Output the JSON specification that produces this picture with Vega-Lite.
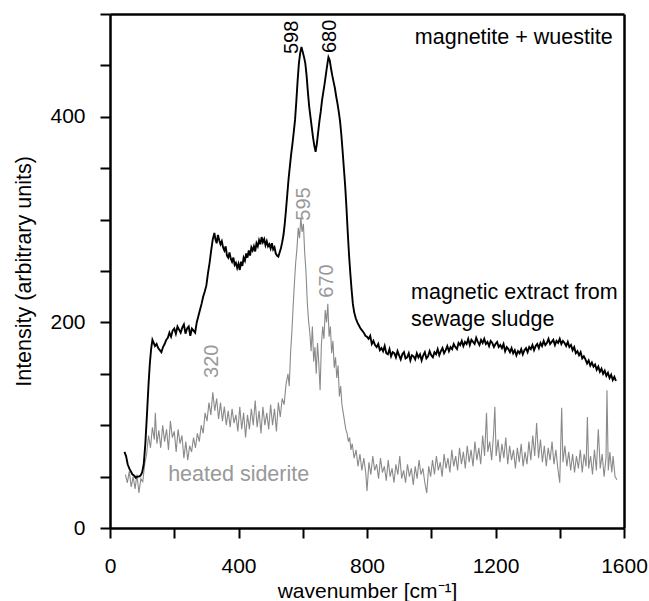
{
  "$schema": "https://vega.github.io/schema/vega-lite/v6.json",
  "width": 514,
  "height": 514,
  "autosize": {"type": "none"},
  "padding": {"left": 110, "top": 14, "right": 25, "bottom": 73},
  "config": {
    "font": "Liberation Sans",
    "axis": {"grid": false}
  },
  "resolve": {"scale": {"x": "independent", "y": "independent"}, "axis": {"x": "independent", "y": "independent"}},
  "datasets": {
    "siderite": [
      {"wavenumber":48,"intensity":52},{"wavenumber":54,"intensity":44},{"wavenumber":60,"intensity":55},{"wavenumber":66,"intensity":40},{"wavenumber":72,"intensity":50},{"wavenumber":78,"intensity":38},{"wavenumber":84,"intensity":52},{"wavenumber":90,"intensity":34},{"wavenumber":96,"intensity":48},{"wavenumber":102,"intensity":45},
      {"wavenumber":108,"intensity":62},{"wavenumber":114,"intensity":72},{"wavenumber":120,"intensity":90},{"wavenumber":126,"intensity":78},{"wavenumber":132,"intensity":98},{"wavenumber":138,"intensity":86},{"wavenumber":141,"intensity":112},{"wavenumber":146,"intensity":82},{"wavenumber":152,"intensity":95},{"wavenumber":158,"intensity":78},
      {"wavenumber":164,"intensity":100},{"wavenumber":170,"intensity":84},{"wavenumber":176,"intensity":96},{"wavenumber":182,"intensity":76},{"wavenumber":188,"intensity":104},{"wavenumber":194,"intensity":88},{"wavenumber":200,"intensity":94},{"wavenumber":206,"intensity":74},{"wavenumber":212,"intensity":96},{"wavenumber":218,"intensity":82},
      {"wavenumber":224,"intensity":90},{"wavenumber":230,"intensity":68},{"wavenumber":236,"intensity":84},{"wavenumber":242,"intensity":66},{"wavenumber":248,"intensity":80},{"wavenumber":254,"intensity":74},{"wavenumber":260,"intensity":88},{"wavenumber":266,"intensity":78},{"wavenumber":272,"intensity":92},{"wavenumber":278,"intensity":84},
      {"wavenumber":284,"intensity":100},{"wavenumber":290,"intensity":92},{"wavenumber":296,"intensity":112},{"wavenumber":302,"intensity":104},{"wavenumber":308,"intensity":122},{"wavenumber":314,"intensity":110},{"wavenumber":320,"intensity":132},{"wavenumber":326,"intensity":114},{"wavenumber":332,"intensity":126},{"wavenumber":338,"intensity":106},
      {"wavenumber":344,"intensity":122},{"wavenumber":350,"intensity":104},{"wavenumber":356,"intensity":118},{"wavenumber":362,"intensity":100},{"wavenumber":368,"intensity":114},{"wavenumber":374,"intensity":98},{"wavenumber":380,"intensity":116},{"wavenumber":386,"intensity":102},{"wavenumber":392,"intensity":110},{"wavenumber":398,"intensity":94},
      {"wavenumber":404,"intensity":118},{"wavenumber":410,"intensity":96},{"wavenumber":416,"intensity":112},{"wavenumber":422,"intensity":88},{"wavenumber":428,"intensity":110},{"wavenumber":434,"intensity":96},{"wavenumber":440,"intensity":116},{"wavenumber":446,"intensity":100},{"wavenumber":452,"intensity":124},{"wavenumber":458,"intensity":98},
      {"wavenumber":464,"intensity":114},{"wavenumber":470,"intensity":92},{"wavenumber":476,"intensity":118},{"wavenumber":482,"intensity":100},{"wavenumber":488,"intensity":112},{"wavenumber":494,"intensity":96},{"wavenumber":500,"intensity":120},{"wavenumber":506,"intensity":100},{"wavenumber":512,"intensity":116},{"wavenumber":518,"intensity":94},
      {"wavenumber":524,"intensity":122},{"wavenumber":530,"intensity":108},{"wavenumber":536,"intensity":126},{"wavenumber":542,"intensity":120},{"wavenumber":548,"intensity":140},{"wavenumber":554,"intensity":150},{"wavenumber":558,"intensity":138},{"wavenumber":562,"intensity":170},{"wavenumber":566,"intensity":190},{"wavenumber":570,"intensity":215},
      {"wavenumber":574,"intensity":238},{"wavenumber":578,"intensity":258},{"wavenumber":582,"intensity":272},{"wavenumber":586,"intensity":292},{"wavenumber":590,"intensity":282},{"wavenumber":594,"intensity":302},{"wavenumber":598,"intensity":288},{"wavenumber":602,"intensity":296},{"wavenumber":606,"intensity":268},{"wavenumber":610,"intensity":250},
      {"wavenumber":614,"intensity":220},{"wavenumber":618,"intensity":202},{"wavenumber":622,"intensity":190},{"wavenumber":626,"intensity":172},{"wavenumber":630,"intensity":196},{"wavenumber":634,"intensity":162},{"wavenumber":638,"intensity":176},{"wavenumber":642,"intensity":150},{"wavenumber":646,"intensity":180},{"wavenumber":650,"intensity":160},
      {"wavenumber":654,"intensity":134},{"wavenumber":658,"intensity":178},{"wavenumber":662,"intensity":196},{"wavenumber":666,"intensity":184},{"wavenumber":670,"intensity":212},{"wavenumber":674,"intensity":200},{"wavenumber":678,"intensity":218},{"wavenumber":682,"intensity":186},{"wavenumber":686,"intensity":196},{"wavenumber":690,"intensity":170},
      {"wavenumber":694,"intensity":182},{"wavenumber":698,"intensity":156},{"wavenumber":702,"intensity":166},{"wavenumber":706,"intensity":146},{"wavenumber":710,"intensity":158},{"wavenumber":714,"intensity":128},{"wavenumber":718,"intensity":138},{"wavenumber":722,"intensity":120},{"wavenumber":726,"intensity":112},{"wavenumber":730,"intensity":104},
      {"wavenumber":734,"intensity":96},{"wavenumber":738,"intensity":92},{"wavenumber":742,"intensity":84},{"wavenumber":746,"intensity":88},{"wavenumber":750,"intensity":76},{"wavenumber":754,"intensity":82},{"wavenumber":760,"intensity":68},{"wavenumber":766,"intensity":76},{"wavenumber":772,"intensity":60},{"wavenumber":778,"intensity":72},
      {"wavenumber":784,"intensity":56},{"wavenumber":790,"intensity":68},{"wavenumber":796,"intensity":54},{"wavenumber":800,"intensity":36},{"wavenumber":806,"intensity":64},{"wavenumber":812,"intensity":52},{"wavenumber":818,"intensity":70},{"wavenumber":824,"intensity":56},{"wavenumber":830,"intensity":62},{"wavenumber":836,"intensity":48},
      {"wavenumber":842,"intensity":68},{"wavenumber":848,"intensity":54},{"wavenumber":854,"intensity":60},{"wavenumber":860,"intensity":46},{"wavenumber":866,"intensity":66},{"wavenumber":872,"intensity":50},{"wavenumber":878,"intensity":58},{"wavenumber":884,"intensity":44},{"wavenumber":890,"intensity":62},{"wavenumber":896,"intensity":52},
      {"wavenumber":902,"intensity":70},{"wavenumber":908,"intensity":48},{"wavenumber":914,"intensity":56},{"wavenumber":920,"intensity":44},{"wavenumber":926,"intensity":62},{"wavenumber":932,"intensity":50},{"wavenumber":938,"intensity":58},{"wavenumber":944,"intensity":42},{"wavenumber":950,"intensity":60},{"wavenumber":956,"intensity":48},
      {"wavenumber":962,"intensity":66},{"wavenumber":968,"intensity":52},{"wavenumber":974,"intensity":58},{"wavenumber":980,"intensity":44},{"wavenumber":986,"intensity":34},{"wavenumber":992,"intensity":60},{"wavenumber":998,"intensity":50},{"wavenumber":1004,"intensity":66},{"wavenumber":1010,"intensity":52},{"wavenumber":1016,"intensity":70},
      {"wavenumber":1022,"intensity":56},{"wavenumber":1028,"intensity":64},{"wavenumber":1034,"intensity":50},{"wavenumber":1040,"intensity":72},{"wavenumber":1046,"intensity":58},{"wavenumber":1052,"intensity":68},{"wavenumber":1058,"intensity":54},{"wavenumber":1064,"intensity":76},{"wavenumber":1070,"intensity":60},{"wavenumber":1076,"intensity":70},
      {"wavenumber":1082,"intensity":56},{"wavenumber":1088,"intensity":78},{"wavenumber":1094,"intensity":62},{"wavenumber":1100,"intensity":74},{"wavenumber":1106,"intensity":58},{"wavenumber":1112,"intensity":80},{"wavenumber":1118,"intensity":64},{"wavenumber":1124,"intensity":76},{"wavenumber":1130,"intensity":60},{"wavenumber":1136,"intensity":84},
      {"wavenumber":1142,"intensity":66},{"wavenumber":1148,"intensity":78},{"wavenumber":1154,"intensity":62},{"wavenumber":1160,"intensity":90},{"wavenumber":1166,"intensity":70},{"wavenumber":1172,"intensity":112},{"wavenumber":1176,"intensity":74},{"wavenumber":1182,"intensity":84},{"wavenumber":1188,"intensity":66},{"wavenumber":1194,"intensity":92},
      {"wavenumber":1198,"intensity":118},{"wavenumber":1202,"intensity":70},{"wavenumber":1208,"intensity":86},{"wavenumber":1214,"intensity":64},{"wavenumber":1220,"intensity":82},{"wavenumber":1226,"intensity":68},{"wavenumber":1232,"intensity":88},{"wavenumber":1238,"intensity":62},{"wavenumber":1244,"intensity":80},{"wavenumber":1250,"intensity":66},
      {"wavenumber":1256,"intensity":76},{"wavenumber":1262,"intensity":58},{"wavenumber":1268,"intensity":78},{"wavenumber":1274,"intensity":64},{"wavenumber":1280,"intensity":82},{"wavenumber":1286,"intensity":60},{"wavenumber":1292,"intensity":74},{"wavenumber":1298,"intensity":62},{"wavenumber":1304,"intensity":84},{"wavenumber":1310,"intensity":66},
      {"wavenumber":1316,"intensity":90},{"wavenumber":1322,"intensity":70},{"wavenumber":1328,"intensity":102},{"wavenumber":1334,"intensity":68},{"wavenumber":1340,"intensity":86},{"wavenumber":1346,"intensity":64},{"wavenumber":1352,"intensity":80},{"wavenumber":1358,"intensity":60},{"wavenumber":1364,"intensity":78},{"wavenumber":1370,"intensity":66},
      {"wavenumber":1376,"intensity":84},{"wavenumber":1382,"intensity":62},{"wavenumber":1388,"intensity":76},{"wavenumber":1394,"intensity":58},{"wavenumber":1400,"intensity":44},{"wavenumber":1406,"intensity":117},{"wavenumber":1410,"intensity":64},{"wavenumber":1416,"intensity":80},{"wavenumber":1422,"intensity":60},{"wavenumber":1428,"intensity":74},
      {"wavenumber":1434,"intensity":56},{"wavenumber":1440,"intensity":72},{"wavenumber":1446,"intensity":54},{"wavenumber":1452,"intensity":70},{"wavenumber":1458,"intensity":58},{"wavenumber":1464,"intensity":76},{"wavenumber":1470,"intensity":54},{"wavenumber":1476,"intensity":72},{"wavenumber":1482,"intensity":60},{"wavenumber":1486,"intensity":108},
      {"wavenumber":1490,"intensity":58},{"wavenumber":1496,"intensity":70},{"wavenumber":1502,"intensity":52},{"wavenumber":1508,"intensity":76},{"wavenumber":1514,"intensity":56},{"wavenumber":1520,"intensity":96},{"wavenumber":1526,"intensity":58},{"wavenumber":1532,"intensity":72},{"wavenumber":1538,"intensity":50},{"wavenumber":1544,"intensity":68},
      {"wavenumber":1547,"intensity":134},{"wavenumber":1551,"intensity":56},{"wavenumber":1556,"intensity":74},{"wavenumber":1562,"intensity":54},{"wavenumber":1566,"intensity":70},{"wavenumber":1572,"intensity":50},{"wavenumber":1578,"intensity":47}
    ],
    "magnetic": [
      {"wavenumber":45,"intensity":74},{"wavenumber":50,"intensity":70},{"wavenumber":55,"intensity":62},{"wavenumber":60,"intensity":58},{"wavenumber":65,"intensity":55},{"wavenumber":70,"intensity":52},{"wavenumber":75,"intensity":51},{"wavenumber":80,"intensity":49},{"wavenumber":85,"intensity":50},{"wavenumber":90,"intensity":50},
      {"wavenumber":95,"intensity":51},{"wavenumber":100,"intensity":54},{"wavenumber":105,"intensity":62},{"wavenumber":110,"intensity":82},{"wavenumber":115,"intensity":110},{"wavenumber":120,"intensity":140},{"wavenumber":124,"intensity":160},{"wavenumber":128,"intensity":174},{"wavenumber":132,"intensity":183},{"wavenumber":136,"intensity":180},
      {"wavenumber":140,"intensity":177},{"wavenumber":145,"intensity":179},{"wavenumber":150,"intensity":175},{"wavenumber":155,"intensity":173},{"wavenumber":160,"intensity":171},{"wavenumber":165,"intensity":176},{"wavenumber":170,"intensity":179},{"wavenumber":175,"intensity":183},{"wavenumber":180,"intensity":185},{"wavenumber":185,"intensity":190},
      {"wavenumber":190,"intensity":186},{"wavenumber":195,"intensity":192},{"wavenumber":200,"intensity":194},{"wavenumber":205,"intensity":189},{"wavenumber":210,"intensity":196},{"wavenumber":215,"intensity":193},{"wavenumber":220,"intensity":190},{"wavenumber":225,"intensity":195},{"wavenumber":230,"intensity":198},{"wavenumber":235,"intensity":189},
      {"wavenumber":240,"intensity":194},{"wavenumber":245,"intensity":196},{"wavenumber":250,"intensity":187},{"wavenumber":255,"intensity":194},{"wavenumber":260,"intensity":192},{"wavenumber":265,"intensity":190},{"wavenumber":270,"intensity":200},{"wavenumber":275,"intensity":206},{"wavenumber":280,"intensity":212},{"wavenumber":285,"intensity":218},
      {"wavenumber":290,"intensity":225},{"wavenumber":295,"intensity":230},{"wavenumber":300,"intensity":236},{"wavenumber":305,"intensity":248},{"wavenumber":310,"intensity":258},{"wavenumber":315,"intensity":270},{"wavenumber":320,"intensity":281},{"wavenumber":325,"intensity":287},{"wavenumber":328,"intensity":281},{"wavenumber":332,"intensity":277},
      {"wavenumber":336,"intensity":285},{"wavenumber":340,"intensity":280},{"wavenumber":344,"intensity":276},{"wavenumber":348,"intensity":279},{"wavenumber":352,"intensity":273},{"wavenumber":356,"intensity":270},{"wavenumber":360,"intensity":274},{"wavenumber":364,"intensity":265},{"wavenumber":368,"intensity":263},{"wavenumber":372,"intensity":268},
      {"wavenumber":376,"intensity":262},{"wavenumber":380,"intensity":259},{"wavenumber":384,"intensity":263},{"wavenumber":388,"intensity":256},{"wavenumber":392,"intensity":258},{"wavenumber":396,"intensity":253},{"wavenumber":400,"intensity":257},{"wavenumber":404,"intensity":251},{"wavenumber":408,"intensity":259},{"wavenumber":412,"intensity":255},
      {"wavenumber":416,"intensity":263},{"wavenumber":420,"intensity":260},{"wavenumber":424,"intensity":267},{"wavenumber":428,"intensity":263},{"wavenumber":432,"intensity":270},{"wavenumber":436,"intensity":265},{"wavenumber":440,"intensity":273},{"wavenumber":444,"intensity":270},{"wavenumber":448,"intensity":274},{"wavenumber":452,"intensity":269},
      {"wavenumber":456,"intensity":277},{"wavenumber":460,"intensity":274},{"wavenumber":464,"intensity":280},{"wavenumber":468,"intensity":276},{"wavenumber":472,"intensity":283},{"wavenumber":476,"intensity":278},{"wavenumber":480,"intensity":281},{"wavenumber":484,"intensity":275},{"wavenumber":488,"intensity":279},{"wavenumber":492,"intensity":274},
      {"wavenumber":496,"intensity":276},{"wavenumber":500,"intensity":272},{"wavenumber":504,"intensity":277},{"wavenumber":508,"intensity":271},{"wavenumber":512,"intensity":273},{"wavenumber":516,"intensity":267},{"wavenumber":520,"intensity":265},{"wavenumber":524,"intensity":264},{"wavenumber":528,"intensity":268},{"wavenumber":532,"intensity":272},
      {"wavenumber":536,"intensity":278},{"wavenumber":540,"intensity":285},{"wavenumber":544,"intensity":296},{"wavenumber":548,"intensity":310},{"wavenumber":552,"intensity":325},{"wavenumber":556,"intensity":340},{"wavenumber":560,"intensity":352},{"wavenumber":564,"intensity":364},{"wavenumber":568,"intensity":374},{"wavenumber":572,"intensity":385},
      {"wavenumber":576,"intensity":397},{"wavenumber":580,"intensity":415},{"wavenumber":584,"intensity":435},{"wavenumber":588,"intensity":452},{"wavenumber":592,"intensity":462},{"wavenumber":596,"intensity":468},{"wavenumber":600,"intensity":463},{"wavenumber":604,"intensity":458},{"wavenumber":608,"intensity":452},{"wavenumber":612,"intensity":440},
      {"wavenumber":616,"intensity":424},{"wavenumber":620,"intensity":410},{"wavenumber":624,"intensity":400},{"wavenumber":628,"intensity":390},{"wavenumber":632,"intensity":380},{"wavenumber":636,"intensity":372},{"wavenumber":640,"intensity":366},{"wavenumber":644,"intensity":374},{"wavenumber":648,"intensity":385},{"wavenumber":652,"intensity":396},
      {"wavenumber":656,"intensity":405},{"wavenumber":660,"intensity":416},{"wavenumber":664,"intensity":424},{"wavenumber":668,"intensity":432},{"wavenumber":672,"intensity":441},{"wavenumber":676,"intensity":450},{"wavenumber":680,"intensity":458},{"wavenumber":684,"intensity":455},{"wavenumber":688,"intensity":447},{"wavenumber":692,"intensity":440},
      {"wavenumber":696,"intensity":434},{"wavenumber":700,"intensity":428},{"wavenumber":704,"intensity":420},{"wavenumber":708,"intensity":413},{"wavenumber":712,"intensity":405},{"wavenumber":716,"intensity":396},{"wavenumber":720,"intensity":383},{"wavenumber":724,"intensity":367},{"wavenumber":728,"intensity":350},{"wavenumber":732,"intensity":333},
      {"wavenumber":736,"intensity":312},{"wavenumber":740,"intensity":288},{"wavenumber":744,"intensity":266},{"wavenumber":748,"intensity":248},{"wavenumber":752,"intensity":232},{"wavenumber":756,"intensity":218},{"wavenumber":760,"intensity":210},{"wavenumber":765,"intensity":204},{"wavenumber":770,"intensity":200},{"wavenumber":775,"intensity":197},
      {"wavenumber":780,"intensity":194},{"wavenumber":785,"intensity":192},{"wavenumber":790,"intensity":190},{"wavenumber":795,"intensity":187},{"wavenumber":800,"intensity":186},{"wavenumber":805,"intensity":184},{"wavenumber":810,"intensity":187},{"wavenumber":815,"intensity":179},{"wavenumber":820,"intensity":182},{"wavenumber":825,"intensity":178},
      {"wavenumber":830,"intensity":176},{"wavenumber":835,"intensity":179},{"wavenumber":840,"intensity":173},{"wavenumber":845,"intensity":175},{"wavenumber":850,"intensity":172},{"wavenumber":855,"intensity":177},{"wavenumber":860,"intensity":170},{"wavenumber":865,"intensity":169},{"wavenumber":870,"intensity":174},{"wavenumber":875,"intensity":167},
      {"wavenumber":880,"intensity":171},{"wavenumber":885,"intensity":170},{"wavenumber":890,"intensity":166},{"wavenumber":895,"intensity":172},{"wavenumber":900,"intensity":168},{"wavenumber":905,"intensity":164},{"wavenumber":910,"intensity":169},{"wavenumber":915,"intensity":171},{"wavenumber":920,"intensity":165},{"wavenumber":925,"intensity":166},
      {"wavenumber":930,"intensity":170},{"wavenumber":935,"intensity":163},{"wavenumber":940,"intensity":168},{"wavenumber":945,"intensity":167},{"wavenumber":950,"intensity":164},{"wavenumber":955,"intensity":170},{"wavenumber":960,"intensity":166},{"wavenumber":965,"intensity":169},{"wavenumber":970,"intensity":163},{"wavenumber":975,"intensity":168},
      {"wavenumber":980,"intensity":171},{"wavenumber":985,"intensity":165},{"wavenumber":990,"intensity":167},{"wavenumber":995,"intensity":172},{"wavenumber":1000,"intensity":168},{"wavenumber":1005,"intensity":166},{"wavenumber":1010,"intensity":171},{"wavenumber":1015,"intensity":169},{"wavenumber":1020,"intensity":174},{"wavenumber":1025,"intensity":168},
      {"wavenumber":1030,"intensity":172},{"wavenumber":1035,"intensity":175},{"wavenumber":1040,"intensity":170},{"wavenumber":1045,"intensity":173},{"wavenumber":1050,"intensity":177},{"wavenumber":1055,"intensity":172},{"wavenumber":1060,"intensity":176},{"wavenumber":1065,"intensity":174},{"wavenumber":1070,"intensity":179},{"wavenumber":1075,"intensity":176},
      {"wavenumber":1080,"intensity":174},{"wavenumber":1085,"intensity":180},{"wavenumber":1090,"intensity":178},{"wavenumber":1095,"intensity":182},{"wavenumber":1100,"intensity":177},{"wavenumber":1105,"intensity":181},{"wavenumber":1110,"intensity":179},{"wavenumber":1115,"intensity":184},{"wavenumber":1120,"intensity":178},{"wavenumber":1125,"intensity":183},
      {"wavenumber":1130,"intensity":181},{"wavenumber":1135,"intensity":179},{"wavenumber":1140,"intensity":185},{"wavenumber":1145,"intensity":181},{"wavenumber":1150,"intensity":178},{"wavenumber":1155,"intensity":183},{"wavenumber":1160,"intensity":180},{"wavenumber":1165,"intensity":184},{"wavenumber":1170,"intensity":179},{"wavenumber":1175,"intensity":181},
      {"wavenumber":1180,"intensity":177},{"wavenumber":1185,"intensity":182},{"wavenumber":1190,"intensity":180},{"wavenumber":1195,"intensity":176},{"wavenumber":1200,"intensity":179},{"wavenumber":1205,"intensity":181},{"wavenumber":1210,"intensity":176},{"wavenumber":1215,"intensity":178},{"wavenumber":1220,"intensity":175},{"wavenumber":1225,"intensity":179},
      {"wavenumber":1230,"intensity":172},{"wavenumber":1235,"intensity":176},{"wavenumber":1240,"intensity":174},{"wavenumber":1245,"intensity":171},{"wavenumber":1250,"intensity":175},{"wavenumber":1255,"intensity":170},{"wavenumber":1260,"intensity":173},{"wavenumber":1265,"intensity":168},{"wavenumber":1270,"intensity":172},{"wavenumber":1275,"intensity":170},
      {"wavenumber":1280,"intensity":174},{"wavenumber":1285,"intensity":169},{"wavenumber":1290,"intensity":173},{"wavenumber":1295,"intensity":175},{"wavenumber":1300,"intensity":171},{"wavenumber":1305,"intensity":176},{"wavenumber":1310,"intensity":174},{"wavenumber":1315,"intensity":178},{"wavenumber":1320,"intensity":173},{"wavenumber":1325,"intensity":177},
      {"wavenumber":1330,"intensity":179},{"wavenumber":1335,"intensity":175},{"wavenumber":1340,"intensity":180},{"wavenumber":1345,"intensity":177},{"wavenumber":1350,"intensity":182},{"wavenumber":1355,"intensity":178},{"wavenumber":1360,"intensity":180},{"wavenumber":1365,"intensity":184},{"wavenumber":1370,"intensity":179},{"wavenumber":1375,"intensity":181},
      {"wavenumber":1380,"intensity":183},{"wavenumber":1385,"intensity":178},{"wavenumber":1390,"intensity":182},{"wavenumber":1395,"intensity":180},{"wavenumber":1400,"intensity":184},{"wavenumber":1405,"intensity":179},{"wavenumber":1410,"intensity":182},{"wavenumber":1415,"intensity":180},{"wavenumber":1420,"intensity":177},{"wavenumber":1425,"intensity":181},
      {"wavenumber":1430,"intensity":176},{"wavenumber":1435,"intensity":178},{"wavenumber":1440,"intensity":173},{"wavenumber":1445,"intensity":176},{"wavenumber":1450,"intensity":170},{"wavenumber":1455,"intensity":172},{"wavenumber":1460,"intensity":168},{"wavenumber":1465,"intensity":171},{"wavenumber":1470,"intensity":165},{"wavenumber":1475,"intensity":167},
      {"wavenumber":1480,"intensity":164},{"wavenumber":1485,"intensity":160},{"wavenumber":1490,"intensity":163},{"wavenumber":1495,"intensity":158},{"wavenumber":1500,"intensity":161},{"wavenumber":1505,"intensity":157},{"wavenumber":1510,"intensity":159},{"wavenumber":1515,"intensity":154},{"wavenumber":1520,"intensity":157},{"wavenumber":1525,"intensity":152},
      {"wavenumber":1530,"intensity":155},{"wavenumber":1535,"intensity":150},{"wavenumber":1540,"intensity":153},{"wavenumber":1545,"intensity":148},{"wavenumber":1550,"intensity":151},{"wavenumber":1555,"intensity":146},{"wavenumber":1560,"intensity":149},{"wavenumber":1565,"intensity":144},{"wavenumber":1570,"intensity":147},{"wavenumber":1575,"intensity":143}
    ],
    "peaks": [
      {"wavenumber":565,"intensity":461,"label":"598","series":"magnetic"},
      {"wavenumber":684,"intensity":462,"label":"680","series":"magnetic"},
      {"wavenumber":604,"intensity":299,"label":"595","series":"siderite"},
      {"wavenumber":677,"intensity":224,"label":"670","series":"siderite"},
      {"wavenumber":319,"intensity":146,"label":"320","series":"siderite"}
    ],
    "names": [
      {"wavenumber":949,"intensity":477,"label":"magnetite + wuestite","series":"magnetic"},
      {"wavenumber":937,"intensity":229,"label":"magnetic extract from","series":"magnetic"},
      {"wavenumber":937,"intensity":202,"label":"sewage sludge","series":"magnetic"},
      {"wavenumber":181,"intensity":52,"label":"heated siderite","series":"siderite"}
    ]
  },
  "layer": [
    {
      "data": {"name": "siderite"},
      "mark": {"type": "line", "color": "#8a8a8a", "strokeWidth": 1.1},
      "encoding": {
        "x": {
          "field": "wavenumber",
          "type": "quantitative",
          "scale": {"domain": [0, 1600], "nice": false, "zero": false},
          "axis": {
            "orient": "bottom",
            "values": [0, 200, 400, 600, 800, 1000, 1200, 1400, 1600],
            "format": "d",
            "labelExpr": "datum.value % 400 == 0 ? datum.label : ''",
            "tickSize": 10, "tickWidth": 2, "tickColor": "#000000",
            "domainColor": "#000000", "domainWidth": 2.5,
            "labelFontSize": 21, "labelColor": "#000000", "labelPadding": 17,
            "labelFlush": false, "labelOverlap": false,
            "title": "wavenumber [cm⁻¹]",
            "titleFontSize": 21, "titleFontWeight": "normal", "titleColor": "#000000",
            "titleBaseline": "alphabetic", "titleY": 69
          }
        },
        "y": {
          "field": "intensity",
          "type": "quantitative",
          "scale": {"domain": [0, 500], "nice": false},
          "axis": {
            "orient": "left",
            "values": [0, 50, 100, 150, 200, 250, 300, 350, 400, 450, 500],
            "format": "d",
            "labelExpr": "datum.value % 200 == 0 ? datum.label : ''",
            "tickSize": 10, "tickWidth": 2, "tickColor": "#000000",
            "domainColor": "#000000", "domainWidth": 2.5,
            "labelFontSize": 21, "labelColor": "#000000", "labelPadding": 15,
            "labelFlush": false, "labelOverlap": false,
            "title": "Intensity (arbitrary units)",
            "titleFontSize": 21.5, "titleFontWeight": "normal", "titleColor": "#000000",
            "titleBaseline": "alphabetic", "titleX": -80
          }
        }
      }
    },
    {
      "data": {"name": "magnetic"},
      "mark": {"type": "line", "color": "#000000", "strokeWidth": 1.9},
      "encoding": {
        "x": {
          "field": "wavenumber", "type": "quantitative",
          "scale": {"domain": [0, 1600], "nice": false, "zero": false},
          "axis": {"orient": "top", "labels": false, "ticks": false, "title": null, "domainColor": "#000000", "domainWidth": 2.5}
        },
        "y": {
          "field": "intensity", "type": "quantitative",
          "scale": {"domain": [0, 500], "nice": false},
          "axis": {"orient": "right", "labels": false, "ticks": false, "title": null, "domainColor": "#000000", "domainWidth": 2.5}
        }
      }
    },
    {
      "data": {"name": "peaks"},
      "mark": {"type": "text", "angle": 270, "align": "left", "baseline": "middle", "fontSize": 20},
      "encoding": {
        "x": {"field": "wavenumber", "type": "quantitative", "scale": {"domain": [0, 1600], "nice": false, "zero": false}, "axis": null},
        "y": {"field": "intensity", "type": "quantitative", "scale": {"domain": [0, 500], "nice": false}, "axis": null},
        "text": {"field": "label"},
        "color": {"field": "series", "type": "nominal", "scale": {"domain": ["magnetic", "siderite"], "range": ["#000000", "#999999"]}, "legend": null}
      }
    },
    {
      "data": {"name": "names"},
      "mark": {"type": "text", "align": "left", "baseline": "middle", "fontSize": 21.5},
      "encoding": {
        "x": {"field": "wavenumber", "type": "quantitative", "scale": {"domain": [0, 1600], "nice": false, "zero": false}, "axis": null},
        "y": {"field": "intensity", "type": "quantitative", "scale": {"domain": [0, 500], "nice": false}, "axis": null},
        "text": {"field": "label"},
        "color": {"field": "series", "type": "nominal", "scale": {"domain": ["magnetic", "siderite"], "range": ["#000000", "#999999"]}, "legend": null}
      }
    }
  ]
}
